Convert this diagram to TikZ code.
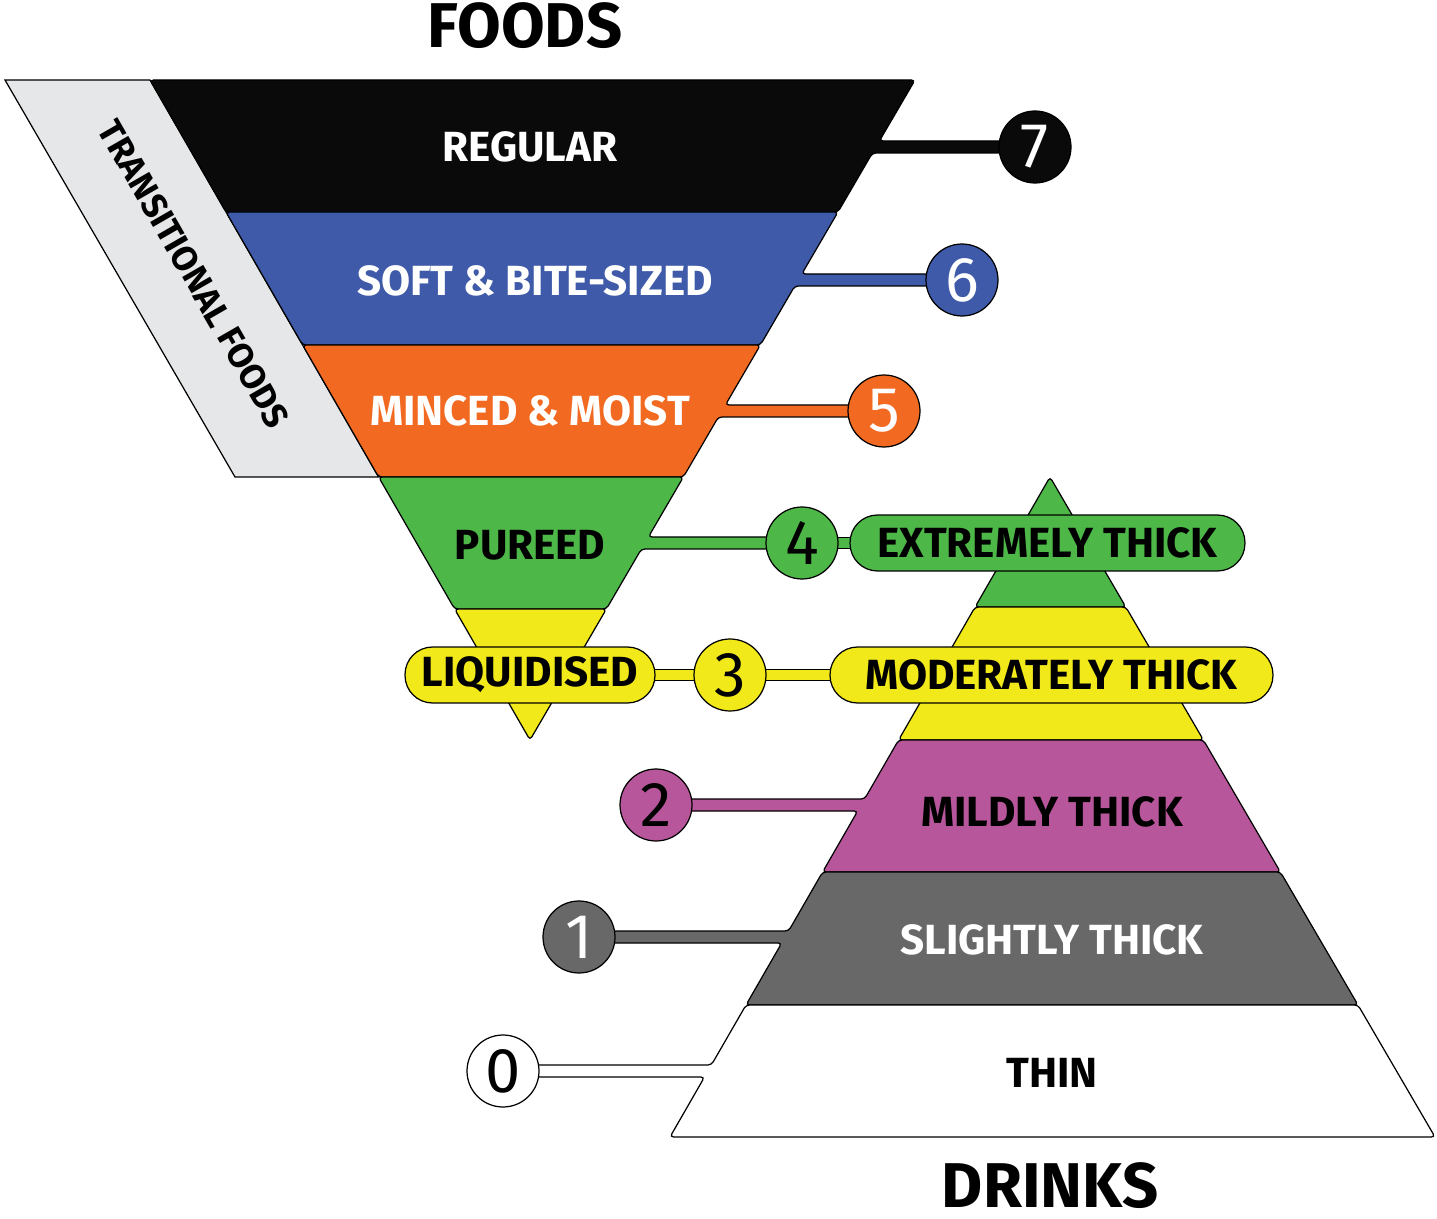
\documentclass[tikz,border=0pt]{standalone}
\usepackage{fontspec}
\setmainfont{Fira Sans}
\begin{document}
\definecolor{cblk}{HTML}{0A0A0A}
\definecolor{cblu}{HTML}{3F5AA8}
\definecolor{corg}{HTML}{F26A21}
\definecolor{cgrn}{HTML}{4DB848}
\definecolor{cyel}{HTML}{F2E91A}
\definecolor{cpur}{HTML}{B8569C}
\definecolor{cgry}{HTML}{686868}
\definecolor{clgr}{HTML}{E6E7E8}
\begin{tikzpicture}[x=0.02cm,y=-0.02cm,
  band/.style={draw=black,line width=0.7pt,rounded corners=2pt},
  lab/.style={font=\bfseries\fontsize{24}{26}\selectfont},
  num/.style={circle,draw=black,line width=0.7pt,minimum size=1.44cm,inner sep=0pt,font=\fontsize{36}{38}\selectfont},
  pill/.style={rounded corners=0.55cm,draw=black,line width=0.7pt,minimum height=1.12cm,font=\bfseries\fontsize{24}{26}\selectfont},
  conn/.style={line width=0.7pt,double distance=5.6pt}]
\useasboundingbox (0,0) rectangle (1437,1219);
% transitional
\draw[fill=clgr,line width=0.7pt] (5,80) -- (150,80) -- (378.6,477) -- (235,477) -- cycle;
\node[rotate=-60.1,font=\fontsize{20}{22}\selectfont\bfseries] (tf) at (194,274) {TRANSITIONAL FOODS};
% foods
\draw[band,fill=cblk] (150,80) -- (915,80) -- (879.4,141) -- (1035,141) -- (1035,153) -- (872.4,153) -- (838,212) -- (226,212) -- cycle;
\draw[band,fill=cblu] (226,212) -- (838,212) -- (801.8,274) -- (962,274) -- (962,286) -- (794.8,286) -- (760.4,345) -- (302.6,345) -- cycle;
\draw[band,fill=corg] (302.6,345) -- (760.4,345) -- (725.4,405) -- (884,405) -- (884,417) -- (718.4,417) -- (683.4,477) -- (378.6,477) -- cycle;
\draw[band,fill=cgrn] (378.6,477) -- (683.4,477) -- (648.4,537) -- (802,537) -- (802,549) -- (641.4,549) -- (606.4,609) -- (454.6,609) -- cycle;
\draw[band,fill=cyel] (454.6,609) -- (606.4,609) -- (530,740) -- cycle;
% drinks
\draw[band,fill=cgrn] (1050,477) -- (1125.8,607) -- (975.1,607) -- cycle;
\draw[band,fill=cyel] (975.1,607) -- (1125.8,607) -- (1203.4,740) -- (898.6,740) -- cycle;
\draw[band,fill=cpur] (898.6,740) -- (1203.4,740) -- (1280.4,872) -- (822.6,872) -- (857.7,811) -- (656,811) -- (656,799) -- (864.6,799) -- cycle;
\draw[band,fill=cgry] (822.6,872) -- (1280.4,872) -- (1358,1005) -- (746,1005) -- (781.7,943) -- (579,943) -- (579,931) -- (788.6,931) -- cycle;
\draw[band,fill=white] (746,1005) -- (1358,1005) -- (1435,1137) -- (670,1137) -- (704.5,1077) -- (503,1077) -- (503,1065) -- (711.4,1065) -- cycle;
% chain connectors
\coordinate (c4a) at (802,543);
\coordinate (c4b) at (900,543);
\coordinate (c3a) at (600,675);
\coordinate (c3b) at (900,675);
\draw[conn,double=cgrn] (c4a) -- (c4b);
\draw[conn,double=cyel] (c3a) -- (c3b);
% pills
\node[pill,fill=cgrn,minimum width=7.9cm] (p4) at (1047.5,543) {EXTREMELY THICK};
\node[pill,fill=cyel,minimum width=8.86cm] (p3) at (1051.5,675) {MODERATELY THICK};
\node[pill,fill=cyel,minimum width=5cm] (pl) at (530,675) {LIQUIDISED};
% circles
\node[num,fill=cblk,text=white] (n7) at (1035,147) {7};
\node[num,fill=cblu,text=white] (n6) at (962,280) {6};
\node[num,fill=corg,text=white] (n5) at (884,411) {5};
\node[num,fill=cgrn] (n4) at (802,543) {4};
\node[num,fill=cyel] (n3) at (730,675) {3};
\node[num,fill=cpur] (n2) at (656,805) {2};
\node[num,fill=cgry,text=white] (n1) at (579,937) {1};
\node[num,fill=white] (n0) at (503,1071) {0};
% labels
\node[lab,text=white] (l7) at (530,147) {REGULAR};
\node[lab,text=white] (l6) at (535,281) {SOFT \& BITE-SIZED};
\node[lab,text=white] (l5) at (530,411) {MINCED \& MOIST};
\node[lab] (l4) at (530,545) {PUREED};
\node[lab] (d2) at (1052,812) {MILDLY THICK};
\node[lab,text=white] (d1) at (1052,940) {SLIGHTLY THICK};
\node[lab] (d0) at (1052,1073) {THIN};
\node[font=\bfseries\fontsize{36}{38}\selectfont] (foods) at (525,26) {FOODS};
\node[font=\bfseries\fontsize{36}{38}\selectfont] (drinks) at (1050,1186) {DRINKS};
\end{tikzpicture}
\end{document}
